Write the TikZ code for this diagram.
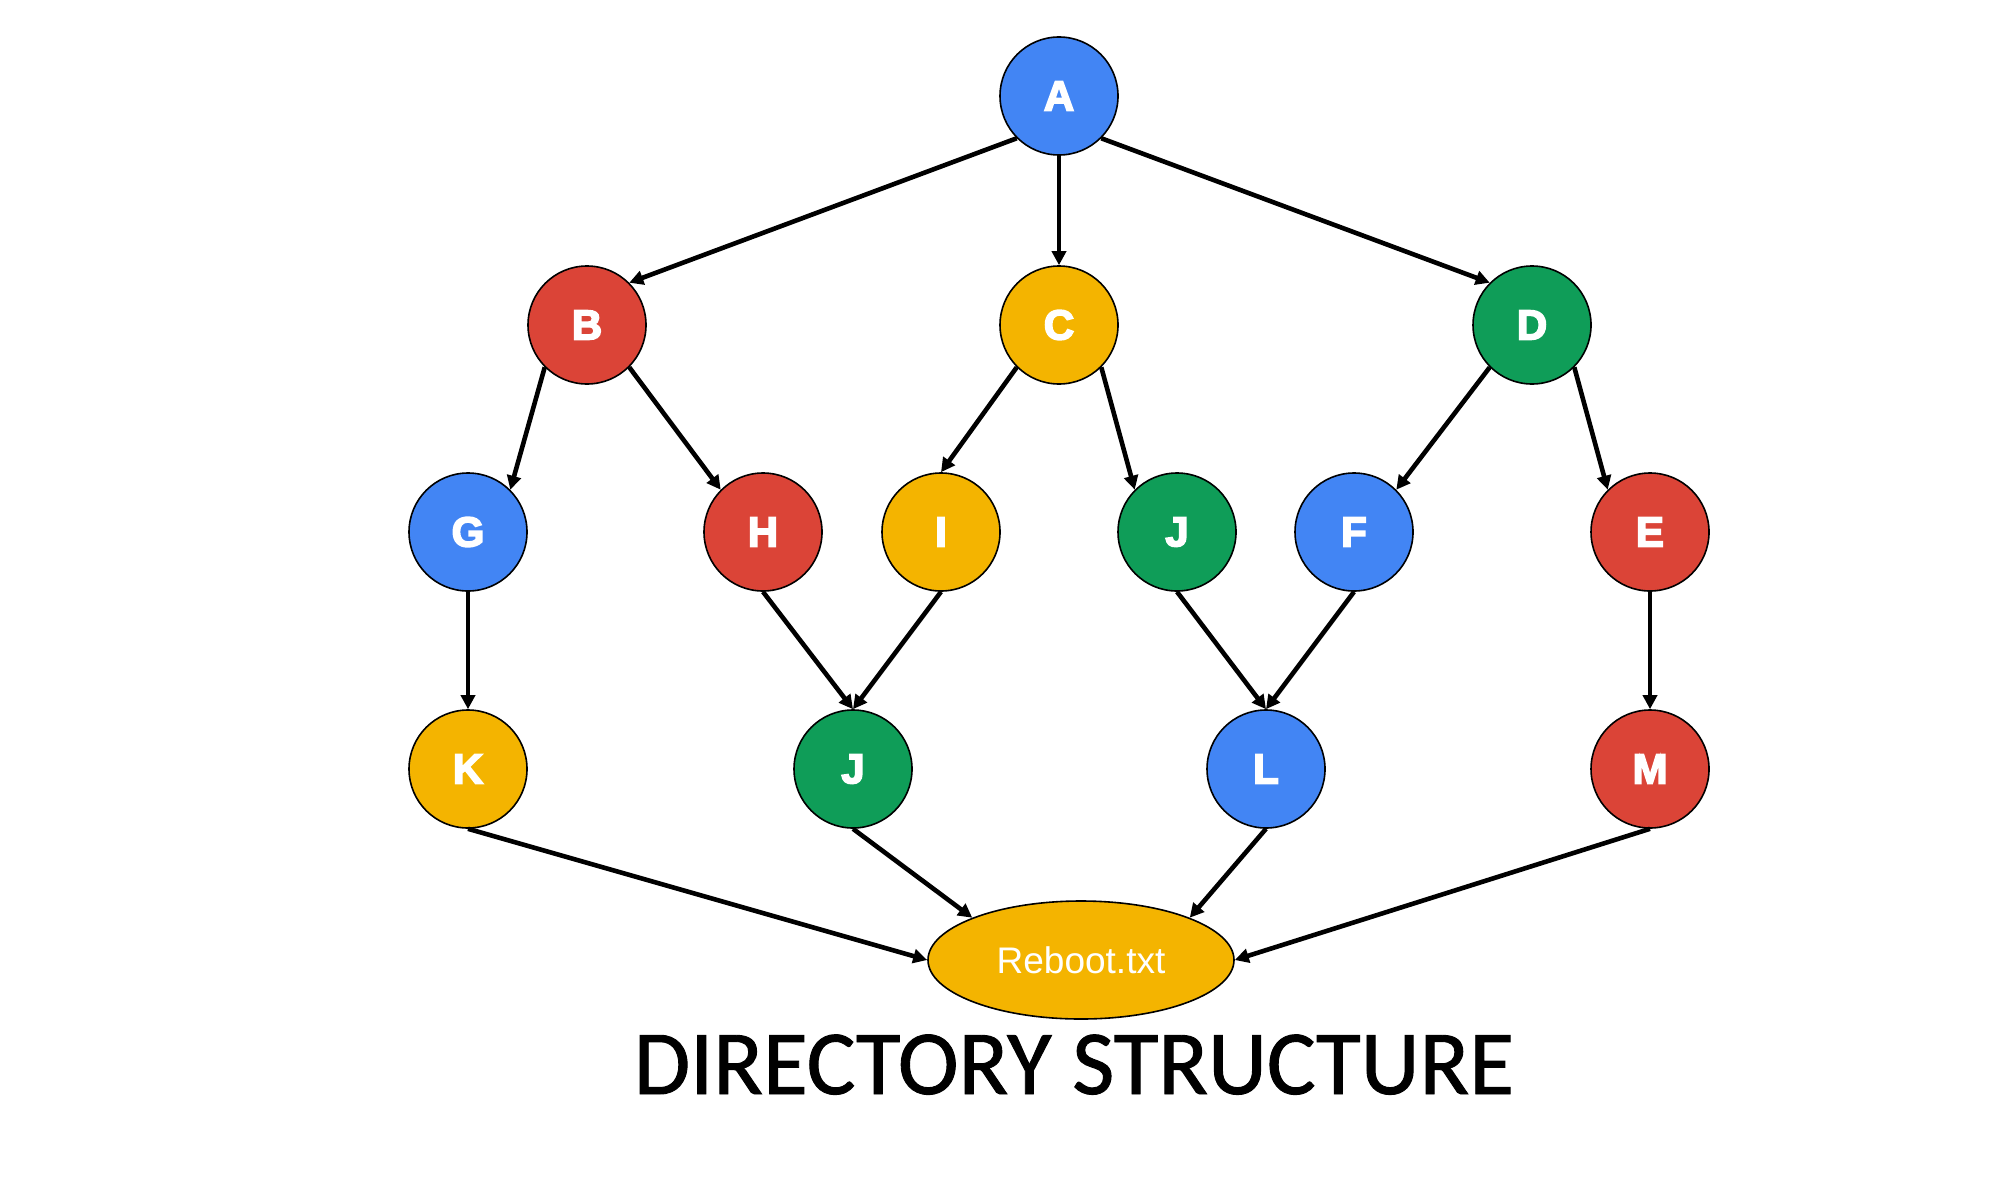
\documentclass[tikz,border=0pt]{standalone}
\usepackage{fontspec}
\setmainfont{Liberation Sans}
\newfontfamily\titlefont[FakeBold=1]{Carlito}
\newfontfamily\heavyfont[FakeBold=4]{Liberation Sans Bold}
\usetikzlibrary{arrows.meta,shapes.geometric}
\definecolor{gblue}{HTML}{4285F4}
\definecolor{gred}{HTML}{DB4437}
\definecolor{gyellow}{HTML}{F4B400}
\definecolor{ggreen}{HTML}{0F9D58}
\tikzset{
  dirnode/.style={circle,draw=black,line width=0.8pt,minimum size=59pt,inner sep=0pt,
    text=white,font=\heavyfont\fontsize{21}{21}\selectfont},
  conn/.style={line width=2.3pt,-{Triangle[length=7pt,width=7pt]}},
}
\begin{document}
\begin{tikzpicture}[x=0.5pt,y=-0.5pt]
\useasboundingbox (0,0) rectangle (2000,1177);
\node[dirnode,fill=gblue]   (A)  at (1059,96)  {A};
\node[dirnode,fill=gred]    (B)  at (587,325)  {B};
\node[dirnode,fill=gyellow] (C)  at (1059,325) {C};
\node[dirnode,fill=ggreen]  (D)  at (1532,325) {D};
\node[dirnode,fill=gblue]   (G)  at (468,532)  {G};
\node[dirnode,fill=gred]    (H)  at (763,532)  {H};
\node[dirnode,fill=gyellow] (I)  at (941,532)  {I};
\node[dirnode,fill=ggreen]  (J)  at (1177,532) {J};
\node[dirnode,fill=gblue]   (F)  at (1354,532) {F};
\node[dirnode,fill=gred]    (E)  at (1650,532) {E};
\node[dirnode,fill=gyellow] (K)  at (468,769)  {K};
\node[dirnode,fill=ggreen]  (J2) at (853,769)  {J};
\node[dirnode,fill=gblue]   (L)  at (1266,769) {L};
\node[dirnode,fill=gred]    (M)  at (1650,769) {M};
\node[ellipse,draw=black,line width=0.8pt,fill=gyellow,minimum width=153pt,minimum height=59pt,inner sep=0pt,
  text=white,font=\fontsize{18.5}{18.5}\selectfont] (R) at (1081,960) {Reboot.txt};
\node[anchor=base,font=\titlefont\fontsize{45.8}{45.8}\selectfont,inner sep=0pt] (T) at (1074,1094) {DIRECTORY STRUCTURE};

\draw[conn] (A.south west) -- (B.north east);
\draw[conn] (A.south) -- (C.north);
\draw[conn] (A.south east) -- (D.north west);
\draw[conn] (B.south west) -- (G.north east);
\draw[conn] (B.south east) -- (H.north west);
\draw[conn] (C.south west) -- (I.north);
\draw[conn] (C.south east) -- (J.north west);
\draw[conn] (D.south west) -- (F.north east);
\draw[conn] (D.south east) -- (E.north west);
\draw[conn] (G.south) -- (K.north);
\draw[conn] (H.south) -- (J2.north);
\draw[conn] (I.south) -- (J2.north);
\draw[conn] (J.south) -- (L.north);
\draw[conn] (F.south) -- (L.north);
\draw[conn] (E.south) -- (M.north);
\draw[conn] (K.south) -- (R.west);
\draw[conn] (J2.south) -- (R.north west);
\draw[conn] (L.south) -- (R.north east);
\draw[conn] (M.south) -- (R.east);
\end{tikzpicture}
\end{document}
